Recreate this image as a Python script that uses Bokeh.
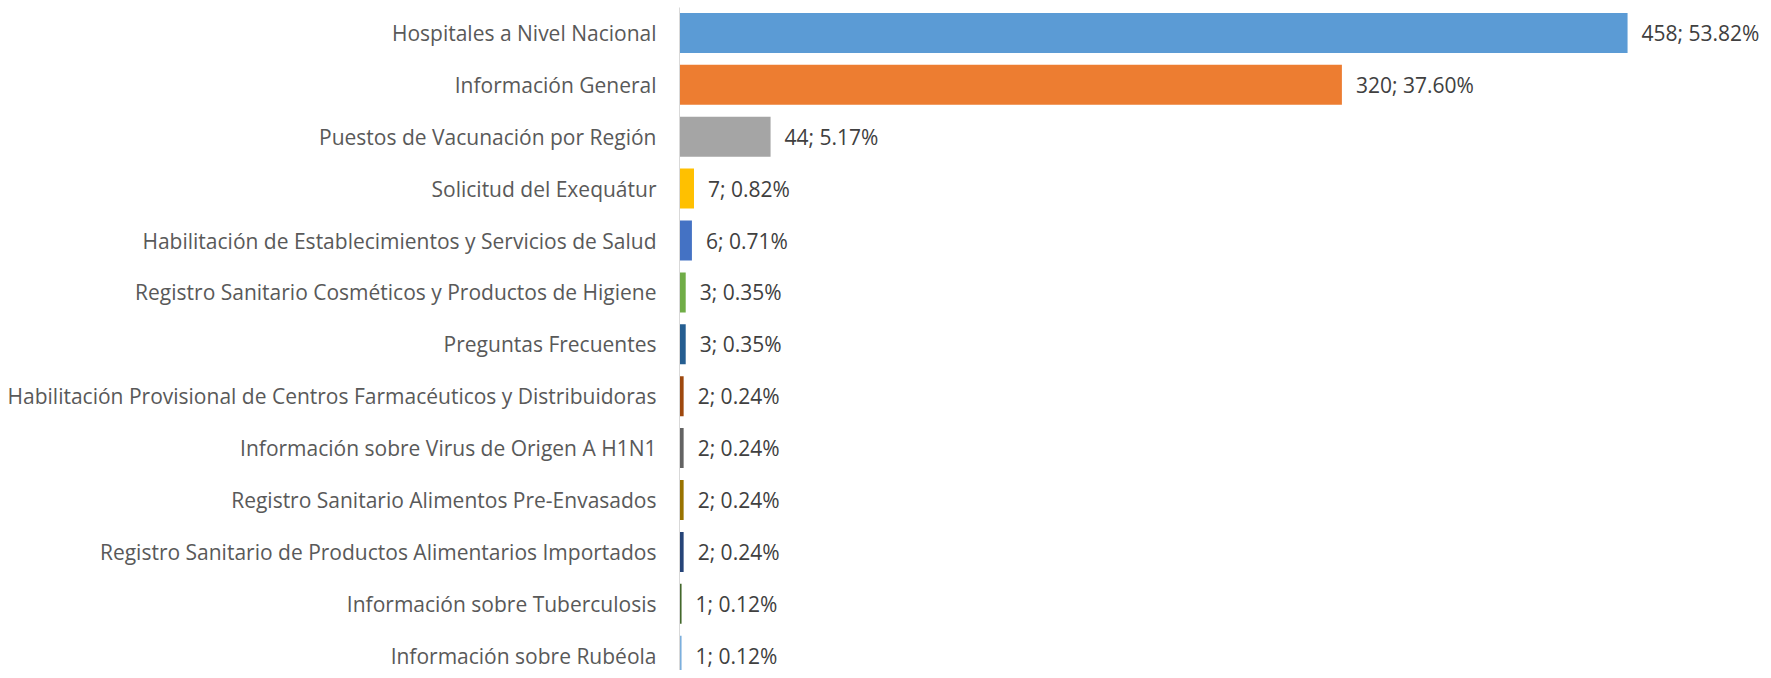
from bokeh.plotting import figure
from bokeh.models import ColumnDataSource, Range1d, FixedTicker
from bokeh.core.properties import value
from bokeh.embed import file_html
from bokeh.resources import INLINE

categories = [
    "Hospitales a Nivel Nacional",
    "Información General",
    "Puestos de Vacunación por Región",
    "Solicitud del Exequátur",
    "Habilitación de Establecimientos y Servicios de Salud",
    "Registro Sanitario Cosméticos y Productos de Higiene",
    "Preguntas Frecuentes",
    "Habilitación Provisional de Centros Farmacéuticos y Distribuidoras",
    "Información sobre Virus de Origen A H1N1",
    "Registro Sanitario Alimentos Pre-Envasados",
    "Registro Sanitario de Productos Alimentarios Importados",
    "Información sobre Tuberculosis",
    "Información sobre Rubéola",
]
counts = [458, 320, 44, 7, 6, 3, 3, 2, 2, 2, 2, 1, 1]
percents = ["53.82%", "37.60%", "5.17%", "0.82%", "0.71%", "0.35%", "0.35%",
            "0.24%", "0.24%", "0.24%", "0.24%", "0.12%", "0.12%"]
colors = ["#5B9BD5", "#ED7D31", "#A5A5A5", "#FFC000", "#4472C4", "#70AD47",
          "#255E91", "#9E480E", "#636363", "#997300", "#264478", "#43682B",
          "#7CAFDD"]

pos = list(range(len(categories)))
labels = [f"{c}; {p}" for c, p in zip(counts, percents)]
src = ColumnDataSource(dict(pos=pos, cat=categories, val=counts, color=colors,
                            label=labels))

W, H = 1763, 670
LEFT = 679
TOP = 7
ROW = 51.9          # pixels per category row
XSCALE = 2.07       # pixels per unit
y_top = -(32.4 - TOP) / ROW
y_bot = y_top + (H - TOP) / ROW

p = figure(width=W, height=H, output_backend="svg", toolbar_location=None,
           y_range=Range1d(y_bot, y_top),
           x_range=Range1d(0, (W - LEFT) / XSCALE),
           min_border_left=LEFT, min_border_right=0, min_border_top=TOP,
           min_border_bottom=0)

p.hbar(y="pos", right="val", left=0, height=0.77, color="color", source=src,
       line_color=None)
p.text(x="val", y="pos", text="label", source=src, x_offset=14,
       text_align="left", text_baseline="middle",
       text_font=value("Open Sans"), text_font_size="21px",
       text_color="#404040")

p.xaxis.visible = False
p.xgrid.visible = False
p.ygrid.visible = False
p.outline_line_color = None
yax = p.yaxis[0]
yax.ticker = FixedTicker(ticks=pos)
yax.major_label_overrides = {i: c for i, c in zip(pos, categories)}
yax.axis_line_color = "#D9D9D9"
yax.axis_line_width = 1
yax.major_tick_line_color = None
yax.minor_tick_line_color = None
yax.major_tick_out = 0
yax.major_label_standoff = 23
yax.major_label_text_font = "Open Sans"
yax.major_label_text_font_size = "21px"
yax.major_label_text_color = "#595959"
p.background_fill_color = "white"
p.border_fill_color = "white"

open("out.html", "w").write(file_html(p, INLINE))
